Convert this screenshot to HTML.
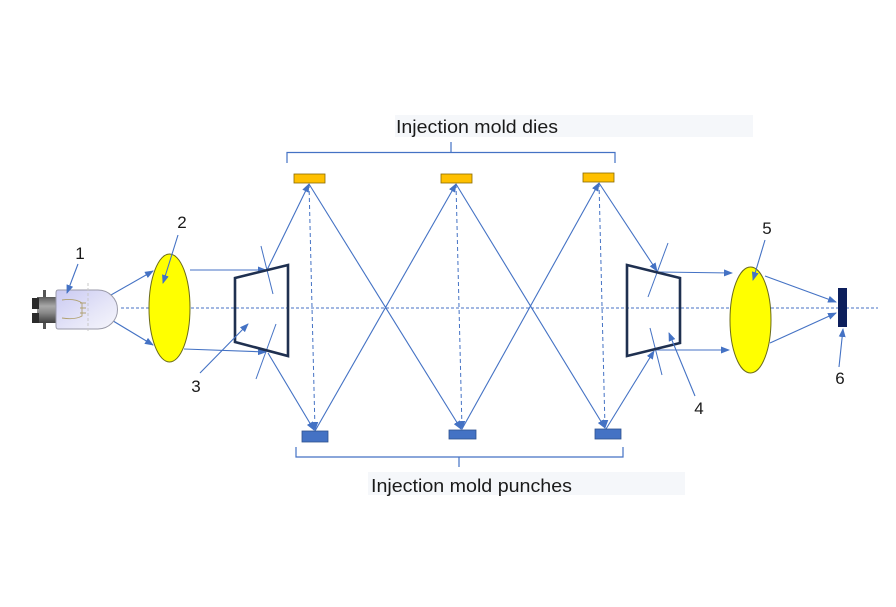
<!DOCTYPE html>
<html>
<head>
<meta charset="utf-8">
<style>
  html,body{margin:0;padding:0;background:#fff;}
  svg{display:block;}
  text{font-family:"Liberation Sans",sans-serif;fill:#1a1a1a;}
</style>
</head>
<body>
<svg width="896" height="607" viewBox="0 0 896 607" xmlns="http://www.w3.org/2000/svg">
  <defs>
    <marker id="ah" markerUnits="userSpaceOnUse" markerWidth="9" markerHeight="7" refX="8" refY="3.5" orient="auto">
      <path d="M0,0 L9,3.5 L0,7 z" fill="#4472c4"/>
    </marker>
    <linearGradient id="glass" x1="0" y1="0" x2="1" y2="1">
      <stop offset="0" stop-color="#c9c9f2"/>
      <stop offset="0.6" stop-color="#e6e6f8"/>
      <stop offset="1" stop-color="#f6f6fc"/>
    </linearGradient>
    <linearGradient id="metal" x1="0" y1="0" x2="0" y2="1">
      <stop offset="0" stop-color="#5a5a5a"/>
      <stop offset="0.35" stop-color="#a8a8a8"/>
      <stop offset="0.6" stop-color="#8a8a8a"/>
      <stop offset="1" stop-color="#3e3e3e"/>
    </linearGradient>
  </defs>

  <!-- label backgrounds -->
  <rect x="395" y="115" width="358" height="22" fill="#f5f7fa"/>
  <rect x="368" y="472" width="317" height="23" fill="#f5f7fa"/>
  <text x="396" y="133" font-size="18" textLength="162" lengthAdjust="spacingAndGlyphs">Injection mold dies</text>
  <text x="371" y="492" font-size="18" textLength="201" lengthAdjust="spacingAndGlyphs">Injection mold punches</text>

  <!-- brackets -->
  <g stroke="#4472c4" stroke-width="1.2" fill="none">
    <path d="M287,163 L287,152.5 L615,152.5 L615,163"/>
    <path d="M451,152.5 L451,142"/>
    <path d="M296,447 L296,457 L623,457 L623,447"/>
    <path d="M459,457 L459,467"/>
  </g>

  <!-- optical axis -->
  <line x1="121" y1="308" x2="878" y2="308" stroke="#4472c4" stroke-width="1" stroke-dasharray="3,2"/>

  <!-- dashed verticals -->
  <g stroke="#4472c4" stroke-width="1" stroke-dasharray="4,3" fill="none" marker-end="url(#ah)">
    <line x1="309" y1="184" x2="315" y2="430"/>
    <line x1="456" y1="184" x2="462" y2="429"/>
    <line x1="599" y1="183" x2="605" y2="428"/>
  </g>

  <!-- rays -->
  <g stroke="#4472c4" stroke-width="1.1" fill="none" marker-end="url(#ah)">
    <line x1="90" y1="307" x2="153" y2="271"/>
    <line x1="90" y1="307" x2="153" y2="345"/>
    <line x1="190" y1="270" x2="266" y2="270"/>
    <line x1="184" y1="349" x2="266" y2="352"/>
    <line x1="267" y1="270" x2="309" y2="184"/>
    <line x1="268" y1="353" x2="314" y2="430"/>
    <line x1="309" y1="184" x2="461" y2="429"/>
    <line x1="315" y1="431" x2="456" y2="184"/>
    <line x1="462" y1="429" x2="599" y2="183"/>
    <line x1="456" y1="184" x2="605" y2="428"/>
    <line x1="599" y1="183" x2="657" y2="271"/>
    <line x1="606" y1="429" x2="654" y2="351"/>
    <line x1="658" y1="272" x2="732" y2="273"/>
    <line x1="656" y1="350" x2="729" y2="350"/>
    <line x1="765" y1="276" x2="836" y2="302"/>
    <line x1="770" y1="343" x2="836" y2="313"/>
  </g>

  <!-- normals at trapezoids -->
  <g stroke="#4472c4" stroke-width="1" fill="none">
    <line x1="261" y1="246" x2="273" y2="294"/>
    <line x1="276" y1="324" x2="256" y2="379"/>
    <line x1="668" y1="243" x2="648" y2="297"/>
    <line x1="650" y1="328" x2="662" y2="375"/>
  </g>

  <!-- trapezoids -->
  <polygon points="235,278 288,265 288,356 235,342" fill="none" stroke="#1f3050" stroke-width="2.6" stroke-linejoin="miter"/>
  <polygon points="627,265 680,278 680,343 627,356" fill="none" stroke="#1f3050" stroke-width="2.6" stroke-linejoin="miter"/>

  <!-- dies -->
  <g fill="#ffc000" stroke="#8a6a00" stroke-width="0.8">
    <rect x="294" y="174" width="31" height="9"/>
    <rect x="441" y="174" width="31" height="9"/>
    <rect x="583" y="173" width="31" height="9"/>
  </g>
  <!-- punches -->
  <g fill="#4472c4" stroke="#2f528f" stroke-width="0.8">
    <rect x="302" y="431" width="26" height="11"/>
    <rect x="449" y="430" width="27" height="9"/>
    <rect x="595" y="429" width="26" height="10"/>
  </g>

  <!-- lenses -->
  <ellipse cx="169.5" cy="308" rx="20.5" ry="54" fill="#ffff00" stroke="#6b6b1a" stroke-width="1"/>
  <ellipse cx="750.5" cy="320" rx="20.5" ry="53" fill="#ffff00" stroke="#6b6b1a" stroke-width="1"/>

  <!-- sensor -->
  <rect x="838" y="288" width="9" height="39" fill="#0d1f5c"/>

  <!-- bulb -->
  <rect x="43" y="290" width="3" height="8" fill="#555"/>
  <rect x="43" y="322" width="3" height="7" fill="#555"/>
  <rect x="37" y="297" width="21" height="26" fill="url(#metal)"/>
  <rect x="32" y="298" width="7" height="11" fill="#2b2b2b"/>
  <rect x="32" y="313" width="7" height="10" fill="#2b2b2b"/>
  <path d="M58,290 L98,290 A19.5,19.5 0 0 1 98,329 L58,329 Q56,329 56,326 L56,293 Q56,290 58,290 z" fill="url(#glass)" stroke="#9a9aa8" stroke-width="1"/>
  <line x1="88" y1="283" x2="88" y2="333" stroke="#c8c8c8" stroke-width="1" stroke-dasharray="3,2"/>
  <g stroke="#b0a070" stroke-width="0.9" fill="none">
    <path d="M62,300 Q75,298 82,303 L82,316 Q75,320 62,318"/>
    <path d="M80,303 L86,303 M80,308 L86,308 M80,313 L86,313"/>
  </g>

  <!-- number labels -->
  <g font-size="17" text-anchor="middle">
    <text x="80" y="259">1</text>
    <text x="182" y="228">2</text>
    <text x="196" y="392">3</text>
    <text x="699" y="414">4</text>
    <text x="767" y="234">5</text>
    <text x="840" y="384">6</text>
  </g>

  <!-- pointers -->
  <g stroke="#4472c4" stroke-width="1.1" fill="none" marker-end="url(#ah)">
    <line x1="78" y1="264" x2="67" y2="293"/>
    <line x1="178" y1="235" x2="163" y2="283"/>
    <line x1="200" y1="373" x2="248" y2="324"/>
    <line x1="695" y1="396" x2="669" y2="333"/>
    <line x1="765" y1="240" x2="753" y2="280"/>
    <line x1="839" y1="367" x2="843" y2="329"/>
  </g>
</svg>
</body>
</html>
